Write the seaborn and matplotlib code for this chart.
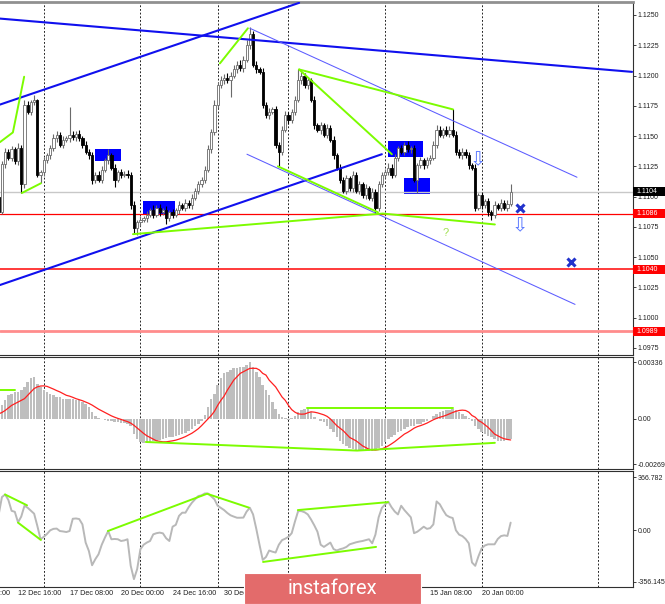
import numpy as np
import pandas as pd
import matplotlib
matplotlib.use("Agg")
import matplotlib.pyplot as plt
import seaborn as sns
from matplotlib.transforms import blended_transform_factory as blend
from matplotlib.patches import Rectangle

sns.set_theme(style="white")
plt.rcParams["font.family"] = ["Liberation Sans", "DejaVu Sans"]

# ---------------- data (EURUSD H4) ----------------
close = [
    1.1087, 1.1127, 1.1137, 1.1132, 1.1139, 1.1129, 1.1140, 1.1110, 1.1176, 1.1170,
    1.1178, 1.1180, 1.1118, 1.1120, 1.1130, 1.1134, 1.1140, 1.1148, 1.1151, 1.1143,
    1.1147, 1.1148, 1.1151, 1.1149, 1.1152, 1.1148, 1.1143, 1.1137, 1.1134, 1.1114,
    1.1118, 1.1114, 1.1122, 1.1130, 1.1134, 1.1124, 1.1114, 1.1120, 1.1118, 1.1119,
    1.1118, 1.1093, 1.1074, 1.1079, 1.1081, 1.1082, 1.1085, 1.1089, 1.1085, 1.1091,
    1.1087, 1.1089, 1.1082, 1.1087, 1.1085, 1.1089, 1.1093, 1.1091, 1.1095, 1.1093,
    1.1099, 1.1105, 1.1110, 1.1114, 1.1122, 1.1139, 1.1153, 1.1176, 1.1192, 1.1196,
    1.1198, 1.1196, 1.1200, 1.1205, 1.1209, 1.1206, 1.1213, 1.1225, 1.1234, 1.1209,
    1.1205, 1.1203, 1.1176, 1.1167, 1.1170, 1.1172, 1.1143, 1.1137, 1.1155, 1.1167,
    1.1163, 1.1170, 1.1180, 1.1196, 1.1200, 1.1192, 1.1196, 1.1180, 1.1159, 1.1155,
    1.1159, 1.1151, 1.1157, 1.1147, 1.1134, 1.1124, 1.1114, 1.1105, 1.1115, 1.1107,
    1.1118, 1.1105, 1.1110, 1.1101, 1.1107, 1.1099, 1.1104, 1.1091, 1.1110, 1.1118,
    1.1120, 1.1124, 1.1118, 1.1132, 1.1140, 1.1137, 1.1143, 1.1139, 1.1140, 1.1114,
    1.1126, 1.1130, 1.1126, 1.1130, 1.1132, 1.1143, 1.1155, 1.1151, 1.1155, 1.1152,
    1.1155, 1.1151, 1.1137, 1.1134, 1.1137, 1.1134, 1.1126, 1.1124, 1.1091, 1.1101,
    1.1093, 1.1096, 1.1087, 1.1085, 1.1093, 1.1091, 1.1095, 1.1091, 1.1094, 1.1104,
]
first_open = 1.1100
# wick lengths in pips above / below the candle body
wick_up = [
    3, 2, 3, 2, 3, 2, 4, 3, 4, 3,
    2, 4, 1, 2, 3, 2, 3, 4, 3, 2,
    3, 2, 23, 3, 2, 3, 2, 3, 2, 3,
    2, 3, 3, 2, 5, 2, 3, 2, 3, 2,
    3, 2, 3, 2, 3, 2, 3, 2, 4, 2,
    3, 2, 3, 2, 3, 2, 3, 2, 3, 2,
    3, 2, 3, 2, 3, 4, 3, 4, 3, 4,
    3, 4, 3, 4, 3, 4, 3, 4, 6, 3,
    3, 2, 3, 2, 3, 2, 3, 2, 3, 4,
    3, 2, 3, 9, 3, 2, 3, 2, 3, 2,
    3, 2, 3, 2, 3, 2, 3, 2, 3, 2,
    3, 2, 3, 2, 3, 2, 3, 2, 3, 2,
    3, 4, 3, 3, 2, 3, 2, 3, 2, 3,
    2, 3, 2, 3, 2, 3, 4, 3, 2, 3,
    3, 17, 3, 2, 3, 2, 3, 2, 3, 2,
    3, 2, 3, 2, 3, 2, 3, 2, 3, 6,
]
wick_dn = [
    2, 1, 3, 2, 3, 2, 3, 7, 3, 2,
    3, 2, 2, 7, 3, 2, 3, 2, 3, 2,
    3, 2, 3, 2, 3, 2, 3, 2, 3, 4,
    3, 2, 3, 2, 3, 2, 6, 2, 3, 2,
    3, 3, 4, 6, 3, 2, 3, 2, 3, 2,
    3, 2, 5, 2, 3, 2, 3, 2, 3, 2,
    3, 2, 3, 2, 3, 2, 3, 2, 3, 2,
    3, 2, 14, 2, 3, 2, 3, 2, 3, 2,
    3, 2, 3, 2, 3, 2, 3, 12, 3, 2,
    3, 2, 3, 2, 3, 2, 3, 2, 3, 2,
    3, 2, 3, 2, 3, 2, 3, 2, 3, 2,
    3, 2, 3, 2, 3, 2, 3, 5, 3, 2,
    3, 2, 3, 2, 3, 2, 3, 2, 3, 2,
    11, 2, 3, 2, 3, 2, 3, 2, 3, 2,
    3, 2, 3, 2, 3, 2, 3, 2, 3, 2,
    3, 2, 3, 4, 3, 2, 3, 2, 3, 2,
]

macd_hist = [
    0.0007, 0.0008, 0.0011, 0.0014, 0.0015, 0.0016, 0.0016, 0.0017, 0.0019, 0.0022,
    0.0024, 0.0025, 0.0021, 0.0019, 0.0017, 0.0016, 0.0015, 0.0014, 0.0013, 0.0013,
    0.0012, 0.0012, 0.0012, 0.0012, 0.0011, 0.0011, 0.0010, 0.0009, 0.0007, 0.0004,
    0.0002, 0.00005, -0.00003, -0.00006, -0.0001, -0.00013, -0.00016, -0.0002, -0.00024, -0.00026,
    -0.0003, -0.00045, -0.0009, -0.0012, -0.00138, -0.00145, -0.0014, -0.00136, -0.00132, -0.0013,
    -0.00126, -0.0012, -0.00116, -0.0011, -0.00105, -0.001, -0.00095, -0.0009, -0.00082, -0.0007,
    -0.0006, -0.00045, -0.0003, -0.0001, 0.00025, 0.0007, 0.0012, 0.0015, 0.002, 0.0024,
    0.0027, 0.0028, 0.0029, 0.003, 0.003, 0.0031, 0.0031, 0.0032, 0.00336, 0.0031,
    0.0028, 0.0025, 0.0020, 0.0017, 0.0014, 0.0010, 0.0006, 0.0003, 0.0001, 0.00008,
    -0.00005, 0.00008, 0.0002, 0.0004, 0.00055, 0.0006, 0.00062, 0.0004, 0.0001, 0.00002,
    -0.00012, -0.0002, -0.0004, -0.0006, -0.0008, -0.0011, -0.0013, -0.0015, -0.0016, -0.0017,
    -0.0018, -0.00185, -0.0019, -0.0019, -0.0019, -0.0019, -0.0019, -0.0018, -0.0017, -0.0016,
    -0.0014, -0.0012, -0.0011, -0.00095, -0.0008, -0.0007, -0.0006, -0.0005, -0.00045, -0.0004,
    -0.00032, -0.00028, -0.0002, -0.00012, 0.00002, 0.00015, 0.0003, 0.00038, 0.00045, 0.0005,
    0.00055, 0.00056, 0.0005, 0.0004, 0.0003, 0.0002, 0.00005, -0.0001, -0.0004, -0.0006,
    -0.0008, -0.0009, -0.001, -0.0011, -0.0012, -0.0013, -0.0013, -0.0013, -0.00125, -0.0012,
]
macd_signal = [
    0.0003, 0.00038, 0.0005, 0.00065, 0.0008, 0.0009, 0.001, 0.0011, 0.0012, 0.0014,
    0.0016, 0.0018, 0.0019, 0.00195, 0.00196, 0.00193, 0.00185, 0.00177, 0.00168, 0.0016,
    0.0015, 0.0014, 0.00135, 0.00128, 0.0012, 0.00114, 0.00108, 0.001, 0.00092, 0.00082,
    0.0007, 0.00058, 0.00048, 0.00038, 0.00028, 0.00018, 0.0001, 0.00003, -0.00003, -0.0001,
    -0.00016, -0.00025, -0.00038, -0.00054, -0.0007, -0.00086, -0.001, -0.0011, -0.0012, -0.0013,
    -0.00133, -0.00136, -0.00136, -0.00133, -0.0013, -0.00126, -0.0012, -0.00113, -0.00105, -0.00095,
    -0.00085, -0.00072, -0.00058, -0.0004, -0.0002, 0.0, 0.0002, 0.00045, 0.0008, 0.0011,
    0.00135, 0.0017, 0.002, 0.0023, 0.0025, 0.0027, 0.0028, 0.0029, 0.003, 0.003,
    0.003, 0.0029, 0.0027, 0.0026, 0.0023, 0.0021, 0.0019, 0.0016, 0.0013, 0.0011,
    0.0008, 0.00055, 0.0004, 0.0003, 0.00028, 0.00029, 0.00036, 0.00042, 0.0004, 0.00036,
    0.0003, 0.00024, 0.00015, 0.0, -0.0002, -0.0004, -0.00055, -0.0007, -0.0009, -0.0011,
    -0.0012, -0.0013, -0.00145, -0.0016, -0.0017, -0.0018, -0.00184, -0.00185, -0.00182, -0.00178,
    -0.0017, -0.0016, -0.00148, -0.00135, -0.0012, -0.00105, -0.0009, -0.0008, -0.00068, -0.00055,
    -0.00046, -0.0004, -0.00033, -0.00025, -0.00015, -0.00005, 0.00003, 0.0001, 0.00015, 0.00022,
    0.0003, 0.00038, 0.00045, 0.0005, 0.00052, 0.0005, 0.0004, 0.0002, 0.0001, -0.0001,
    -0.0002, -0.00035, -0.0005, -0.0007, -0.0009, -0.001, -0.0011, -0.00118, -0.00122, -0.00125,
]
cci = [
    110, 230, 248, 210, 135, 128, 55, 95, 170, 156,
    135, 115, 30, -62, -45, -25, 0, 10, 12, -5,
    -8, -12, -5, 80, 82, 78, 41, -85, -143, -242,
    -200, -166, -100, -50, -5, -62, -60, -62, -74, -70,
    -62, -246, -338, -269, -131, -100, -85, -74, -28, -20,
    -16, -21, -55, -74, 25, 38, 100, 122, 122, 160,
    191, 215, 237, 242, 255, 255, 235, 215, 170, 155,
    140, 120, 104, 95, 87, 87, 88, 130, 156, 110,
    10, -100, -205, -185, -140, -148, -154, -100, -68, -58,
    -45, -20, 60, 133, 133, 125, 110, 75, 35, -10,
    -100, -115, -100, -85, -130, -140, -131, -125, -115, -97,
    -90, -83, -78, -74, -68, -62, -90, -30, 90, 155,
    179, 198, 160, 130, 110, 170, 140, 115, 90, -20,
    -10, 7, 25, 10, 15, 41, 200, 180, 140, 105,
    92, 85, 0, -30, -40, -60, -90, -223, -246, -180,
    -125, -105, -97, -97, -97, -60, -40, -35, -39, 53,
]

# time axis (bar index) labels and week separators
time_labels = ["10 Dec 00:00", "12 Dec 16:00", "17 Dec 08:00", "20 Dec 00:00",
               "24 Dec 16:00", "30 Dec 08:00", "15 Jan 08:00", "20 Jan 00:00"]
time_label_bars = [-10, 6, 22, 38, 54, 70, 134, 150]
week_starts = [14, 44, 68, 90, 120, 150, 186]

price_ticks = [1.0975, 1.1000, 1.1025, 1.1050, 1.1075, 1.1100, 1.1125,
               1.1150, 1.1175, 1.1200, 1.1225, 1.1250]
level_prices = [1.1086, 1.1040, 1.0989]
last_price = 1.1104

# drawn analysis objects (bar, price)
blue_thick = [[(0.4, 1.1247), (196.7, 1.1203)],
              [(0.4, 1.1176), (93.3, 1.1260)],
              [(0.4, 1.1027), (119.0, 1.1135)]]
blue_thin = [[(78.0, 1.1239), (179.6, 1.1116)],
             [(77.1, 1.1135), (179.0, 1.1011)]]
green_main = [[(0.4, 1.1145), (4.4, 1.1153), (7.9, 1.1199)],
              [(7.2, 1.1103), (13.1, 1.1111)],
              [(68.7, 1.1210), (77.4, 1.1239)],
              [(41.7, 1.1069), (119.3, 1.1086), (154.1, 1.1077)],
              [(93.3, 1.1205), (122.1, 1.1135)],
              [(93.3, 1.1205), (141.1, 1.1172)],
              [(86.7, 1.1125), (117.8, 1.1087)]]
zones = [(29.9, 38.0, 1.1129, 1.1139), (44.8, 54.7, 1.1086, 1.1096),
         (120.9, 131.8, 1.1133, 1.1146), (125.9, 133.9, 1.1102, 1.1115)]
cross_marks = [(161.9, 1.1091), (177.7, 1.1046)]
down_arrows = [(148.8, 1.1130), (161.9, 1.1076)]
question_mark = (138.9, 1.1070)
green_macd = [[(0.4, 0.00169), (5.1, 0.00169)],
              [(45.7, -0.00137), (111.3, -0.00188), (154.1, -0.00142)],
              [(95.7, 0.00065), (141.1, 0.00065)]]
green_cci = [[(1.95, 248), (8.8, 173)],
             [(6.0, 53), (13.1, -67)],
             [(33.9, -5), (64.7, 253), (77.7, 157)],
             [(92.9, 140), (120.9, 195)],
             [(82.1, -219), (117.2, -115)]]

# ---------------- figure ----------------
W, H = 665, 604
fig = plt.figure(figsize=(W / 100, H / 100), dpi=100)
fig.patch.set_facecolor("white")
RX = 633 / W
ax1 = fig.add_axes([0, 1 - 355 / H, RX, 353 / H])
ax2 = fig.add_axes([0, 1 - 469.3 / H, RX, 112.6 / H])
ax3 = fig.add_axes([0, 1 - 586.7 / H, RX, 115.7 / H])

XL = (0.4, 197.0)
bars = np.arange(len(close))
c = np.array(close)
o = np.array([first_open] + close[:-1])
hi = np.maximum(o, c) + np.array(wick_up) * 0.0001
lo = np.minimum(o, c) - np.array(wick_dn) * 0.0001

for ax in (ax1, ax2, ax3):
    ax.set_facecolor("white")
    ax.set_xlim(*XL)
    ax.set_xticks([])
    ax.yaxis.tick_right()
    ax.tick_params(axis="y", direction="out", length=2, width=0.6, pad=1.2,
                   labelsize=5.0, colors="#202020")
    ax.spines["left"].set_visible(False)
    for s in ("right", "bottom", "top"):
        ax.spines[s].set_color("#303030")
        ax.spines[s].set_linewidth(0.8)
    for b in week_starts:
        ax.axvline(b, color="black", ls=(0, (2.2, 2.2)), lw=0.6, zorder=0.5)

ax1.spines["top"].set_color("#909090")
ax1.spines["top"].set_linewidth(2)

# ---- main price panel ----
ax1.set_ylim(1.09692, 1.12607)
ax1.set_yticks(price_ticks)
ax1.set_yticklabels([f"{v:.4f}" for v in price_ticks])

for x0, x1, p0, p1 in zones:
    ax1.add_patch(Rectangle((x0, p0), x1 - x0, p1 - p0, fc="#0000ff", ec="none", zorder=1))

ax1.axhline(last_price, color="#c8c8c8", lw=1, zorder=1.2)
ax1.axhline(level_prices[0], color="#ff0000", lw=0.9, zorder=1.2)
ax1.axhline(level_prices[1], color="#ff3a3a", lw=1.4, zorder=1.2)
ax1.axhline(level_prices[2], color="#ff8c8c", lw=2.0, zorder=1.2)

up = c >= o
df = pd.DataFrame({"bar": bars, "open": o, "close": c, "high": hi, "low": lo})
body_lo = np.minimum(o, c)
body_h = np.maximum(np.abs(c - o), 0.00004)
ax1.vlines(bars[up], lo[up], hi[up], color="#6a6a6a", lw=0.8, zorder=2)
ax1.vlines(bars[~up], lo[~up], hi[~up], color="black", lw=0.8, zorder=2)
ax1.bar(bars[up], body_h[up], bottom=body_lo[up], width=0.7, color="white",
        edgecolor="#6a6a6a", linewidth=0.6, zorder=2.2)
ax1.bar(bars[~up], body_h[~up], bottom=body_lo[~up], width=0.7, color="black",
        edgecolor="black", linewidth=0.6, zorder=2.2)

for ln in blue_thick:
    xs, ys = zip(*ln)
    ax1.plot(xs, ys, color="#1010ee", lw=1.5, zorder=3)
for ln in blue_thin:
    xs, ys = zip(*ln)
    ax1.plot(xs, ys, color="#5c5cff", lw=0.75, zorder=3)
for ln in green_main:
    xs, ys = zip(*ln)
    ax1.plot(xs, ys, color="#7CFC00", lw=1.4, zorder=3.2, solid_capstyle="round")

for bx, py in cross_marks:
    ax1.plot(bx, py, marker="x", ms=6, mew=2.2, color="#2233cc", zorder=4)
for bx, py in down_arrows:
    ax1.text(bx, py, "\u21e9", color="#5a78ff", fontsize=14, ha="center", va="center",
             family="DejaVu Sans", zorder=4)
ax1.text(question_mark[0], question_mark[1], "?", color="#a0e050", fontsize=8,
         ha="center", va="center", zorder=4)

trans1 = blend(ax1.transAxes, ax1.transData)
box_h = 9 * 0.0000826
box_w = 32 / 633
for val, fc in [(last_price, "black"), (level_prices[0], "#ff0000"),
                (level_prices[1], "#ff0000"), (level_prices[2], "#ff0000")]:
    ax1.add_patch(Rectangle((1.0, val - box_h / 2), box_w, box_h, transform=trans1,
                            clip_on=False, fc=fc, ec="none", zorder=6))
    ax1.text(1.0 + 3 / 633, val, f"{val:.4f}", transform=trans1, color="white",
             fontsize=5.0, ha="left", va="center", zorder=7, clip_on=False)

# ---- MACD panel ----
ax2.set_ylim(-0.00299, 0.00369)
ax2.bar(bars, macd_hist, width=0.78, color="#bebebe", linewidth=0, zorder=1)
sns.lineplot(x=bars, y=macd_signal, ax=ax2, color="#ff2020", lw=0.9, zorder=2)
for ln in green_macd:
    xs, ys = zip(*ln)
    ax2.plot(xs, ys, color="#7CFC00", lw=1.4, zorder=3)
ax2.set_yticks([-0.00269, 0.0, 0.00336])
ax2.set_yticklabels(["-0.00269", "0.00", "0.00336"])
ax2.set_xlim(*XL)
ax2.set_xlabel("")
ax2.set_ylabel("")
ax2.set_xticks([])

# ---- CCI panel ----
ax3.set_ylim(-390.5, 410.6)
sns.lineplot(x=bars, y=cci, ax=ax3, color="#b8b8b8", lw=1.4, zorder=2)
for ln in green_cci:
    xs, ys = zip(*ln)
    ax3.plot(xs, ys, color="#7CFC00", lw=1.4, zorder=3)
ax3.set_yticks([-356.145, 0.0, 366.782])
ax3.set_yticklabels(["-356.145", "0.00", "366.782"])
ax3.set_xlim(*XL)
ax3.set_xlabel("")
ax3.set_ylabel("")
ax3.set_xticks([])

trans3 = blend(ax3.transData, ax3.transAxes)
for b, lab in zip(time_label_bars, time_labels):
    ax3.text(b, -0.03, lab, transform=trans3, fontsize=5.2, ha="left", va="top",
             color="#202020", clip_on=False)

# ---- watermark logo ----
fig.add_artist(Rectangle((244 / W, 0), 177 / W, 31 / H, transform=fig.transFigure,
                         fc="#e36b6b", ec="white", lw=0.8, zorder=20))
fig.text(332 / W, 1 - 589 / H, "instaforex", color="white", fontsize=14.5,
         ha="center", va="center", family="Roboto", zorder=21)

fig.savefig("out.png", dpi=100, facecolor="white")
